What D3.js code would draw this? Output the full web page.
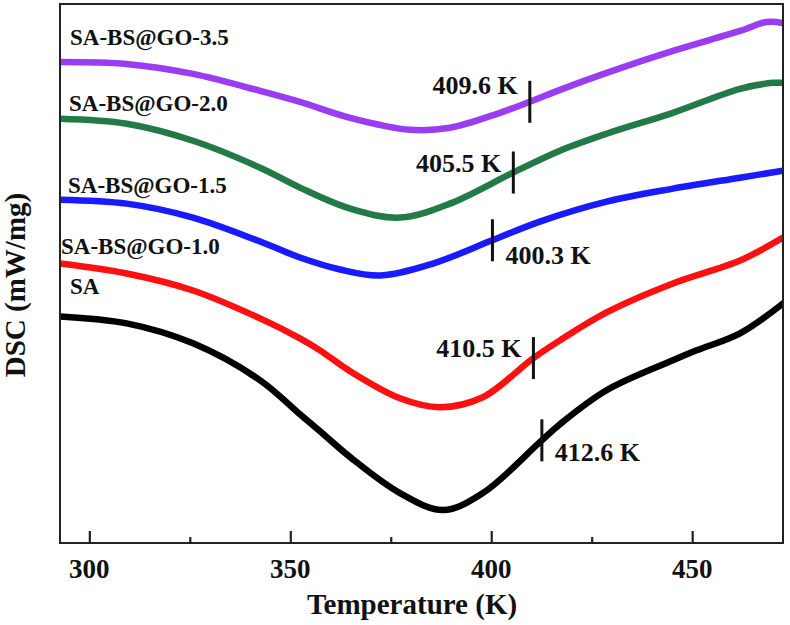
<!DOCTYPE html>
<html>
<head>
<meta charset="utf-8">
<script src="https://cdn.jsdelivr.net/npm/d3@7"></script>
<style>
  html, body { margin: 0; padding: 0; background: #fff; }
  svg { display: block; }
  text { font-family: "Liberation Serif", "Times New Roman", serif; font-weight: bold; fill: #111; }
</style>
</head>
<body>
<svg id="chart" width="790" height="625"></svg>
<script>
// ---- data ----
const seriesNames = ["SA", "SA-BS@GO-1.0", "SA-BS@GO-1.5", "SA-BS@GO-2.0", "SA-BS@GO-3.5"];
const seriesColors = ["#000000", "#ff1010", "#1a1aff", "#237a47", "#9a3df2"];

const tempSA   = [292.7, 309.3, 325.8, 342.5, 352.4, 357.4, 364.9, 377.3, 388.0, 397.9, 412.1, 417.1, 428.7, 445.2, 451.1, 461.9, 472.6];
const dscSA    = [2.27, 2.20, 2.00, 1.63, 1.29, 1.12, 0.86, 0.50, 0.33, 0.50, 1.01, 1.19, 1.53, 1.83, 1.93, 2.10, 2.40];

const temp10   = [292.7, 309.3, 325.8, 342.5, 352.4, 357.4, 364.9, 377.3, 387.2, 397.9, 410.4, 417.1, 428.7, 445.2, 461.9, 472.6];
const dsc10    = [2.80, 2.70, 2.53, 2.25, 2.05, 1.93, 1.72, 1.45, 1.36, 1.46, 1.85, 2.03, 2.31, 2.60, 2.83, 3.06];

const temp15   = [292.7, 309.3, 325.8, 342.5, 352.4, 362.4, 372.3, 385.5, 400.1, 412.1, 428.7, 445.2, 461.9, 472.6];
const dsc15    = [3.44, 3.40, 3.26, 3.02, 2.86, 2.74, 2.68, 2.80, 3.03, 3.22, 3.42, 3.55, 3.66, 3.73];

const temp20   = [292.7, 309.3, 325.8, 342.5, 352.4, 364.9, 377.3, 389.7, 405.4, 417.1, 428.7, 445.2, 461.9, 470.1, 472.6];
const dsc20    = [4.25, 4.20, 4.03, 3.76, 3.56, 3.35, 3.26, 3.40, 3.71, 3.93, 4.10, 4.31, 4.55, 4.61, 4.61];

const temp35   = [292.7, 309.3, 325.8, 342.5, 352.4, 364.9, 379.8, 389.7, 402.2, 409.6, 417.1, 428.7, 445.2, 461.9, 468.5, 472.6];
const dsc35    = [4.82, 4.80, 4.70, 4.53, 4.42, 4.26, 4.14, 4.16, 4.31, 4.42, 4.54, 4.71, 4.93, 5.13, 5.22, 5.21];

const peakTemps  = [412.6, 410.5, 400.3, 405.5, 409.6];
const peakLabels = ["412.6 K", "410.5 K", "400.3 K", "405.5 K", "409.6 K"];

const xMajorTicks = [300, 350, 400, 450];
const xMinorTicks = [325, 375, 425];
const xTitle = "Temperature (K)";
const yTitle = "DSC (mW/mg)";

// ---- layout ----
const svg = d3.select("#chart");
const L = 60, R = 783, T = 4, B = 543;

const x = d3.scaleLinear().domain([292.7, 472.6]).range([L, R]);
const y = d3.scaleLinear().domain([0, 5.4]).range([B, T]);

const series = [
  { temps: tempSA, vals: dscSA },
  { temps: temp10, vals: dsc10 },
  { temps: temp15, vals: dsc15 },
  { temps: temp20, vals: dsc20 },
  { temps: temp35, vals: dsc35 }
].map((s, i) => ({
  name: seriesNames[i],
  color: seriesColors[i],
  points: s.temps.map((t, j) => ({ t, v: s.vals[j] }))
}));

const line = d3.line().x(d => x(d.t)).y(d => y(d.v)).curve(d3.curveCatmullRom.alpha(0.5));

svg.append("clipPath").attr("id", "clip")
  .append("rect").attr("x", L).attr("y", T).attr("width", R - L).attr("height", B - T);

const g = svg.append("g").attr("clip-path", "url(#clip)");
series.forEach(s => {
  g.append("path").datum(s.points)
    .attr("d", line)
    .attr("fill", "none")
    .attr("stroke", s.color)
    .attr("stroke-width", 6.5)
    .attr("stroke-linejoin", "round")
    .attr("stroke-linecap", "round");
});

function curveY(path, tt) {
  const px = x(tt);
  const len = path.getTotalLength();
  let lo = 0, hi = len;
  for (let k = 0; k < 40; k++) {
    const mid = (lo + hi) / 2;
    if (path.getPointAtLength(mid).x < px) lo = mid; else hi = mid;
  }
  return path.getPointAtLength((lo + hi) / 2).y;
}

const paths = g.selectAll("path").nodes();
const labelSide = ["right", "left", "right", "left", "left"];
const labelDy   = [12, -10, 15, -10, -17];
peakTemps.forEach((pt, i) => {
  const cx = x(pt);
  const cy = curveY(paths[i], pt);
  svg.append("line")
    .attr("x1", cx).attr("x2", cx)
    .attr("y1", cy - 21).attr("y2", cy + 21)
    .attr("stroke", "#111").attr("stroke-width", 3);
  const right = labelSide[i] === "right";
  svg.append("text")
    .attr("x", right ? cx + 13 : cx - 12)
    .attr("y", cy + labelDy[i])
    .attr("dy", "0.35em")
    .attr("text-anchor", right ? "start" : "end")
    .attr("font-size", 26)
    .text(peakLabels[i]);
});

const labelX = [70, 61, 68, 69, 70];
const labelY = [294, 254, 193, 111, 45];
series.forEach((s, i) => {
  svg.append("text")
    .attr("x", labelX[i]).attr("y", labelY[i])
    .attr("font-size", 23)
    .text(s.name);
});

svg.append("rect")
  .attr("x", L).attr("y", T).attr("width", R - L).attr("height", B - T)
  .attr("fill", "none").attr("stroke", "#222").attr("stroke-width", 2);

const axis = svg.append("g").attr("transform", `translate(0,${B})`);
axis.call(d3.axisBottom(x).tickValues(xMajorTicks).tickSize(-12).tickFormat(""))
  .call(a => a.select(".domain").remove())
  .call(a => a.selectAll(".tick line").attr("stroke", "#222").attr("stroke-width", 2.2));
const minor = svg.append("g").attr("transform", `translate(0,${B})`);
minor.call(d3.axisBottom(x).tickValues(xMinorTicks).tickSize(-6).tickFormat(""))
  .call(a => a.select(".domain").remove())
  .call(a => a.selectAll(".tick line").attr("stroke", "#222").attr("stroke-width", 2.2));

svg.selectAll(".xlab").data(xMajorTicks).enter().append("text")
  .attr("x", d => x(d)).attr("y", 578)
  .attr("text-anchor", "middle")
  .attr("font-size", 27)
  .text(d => d);

svg.append("text")
  .attr("x", 412).attr("y", 614)
  .attr("text-anchor", "middle")
  .attr("font-size", 29)
  .text(xTitle);

svg.append("text")
  .attr("transform", "translate(25,285) rotate(-90)")
  .attr("text-anchor", "middle")
  .attr("font-size", 29)
  .text(yTitle);
</script>
</body>
</html>
